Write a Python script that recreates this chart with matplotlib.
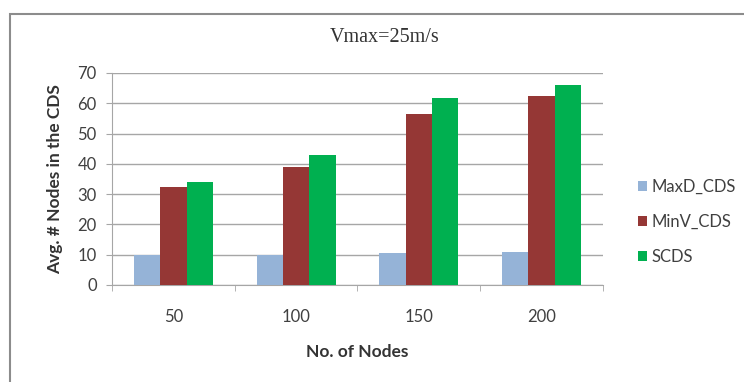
import numpy as np
import matplotlib
matplotlib.use('Agg')
import matplotlib.pyplot as plt
from matplotlib.patches import Rectangle

# --- data ---
nodes = ['50', '100', '150', '200']
maxd_cds = [9.9, 9.9, 10.4, 10.9]
minv_cds = [32.4, 38.8, 56.4, 62.3]
scds = [33.9, 42.8, 61.8, 66.0]
series_names = ['MaxD_CDS', 'MinV_CDS', 'SCDS']
colors = ['#95B3D7', '#953735', '#00B050']

plt.rcParams['font.family'] = ['Lato', 'DejaVu Sans']

fig = plt.figure(figsize=(7.44, 3.82), dpi=100)
# outer chart border
fig.patches.append(Rectangle((10 / 744, -0.05), 1.2, 1 - 14 / 382 + 0.05,
                             transform=fig.transFigure, fill=False,
                             edgecolor='#8c8c8c', linewidth=1.5))

ax = fig.add_axes([0.1505, 0.254, 0.66, 0.555])

x = np.arange(len(nodes))
w = 0.215
for i, (vals, name, c) in enumerate(zip([maxd_cds, minv_cds, scds], series_names, colors)):
    ax.bar(x + (i - 1) * w, vals, width=w, color=c, label=name, zorder=3)

ax.set_xlim(-0.5, len(nodes) - 0.5)
ax.set_ylim(0, 70)
ax.set_yticks(range(0, 71, 10))
ax.yaxis.grid(True, color='#a6a6a6', linewidth=1, zorder=0)
ax.set_axisbelow(True)

# category labels in the middle, tick marks on the boundaries
ax.set_xticks(x)
ax.set_xticklabels(nodes)
ax.tick_params(axis='x', length=0, pad=17, labelsize=12, labelcolor='#404040')
ax.set_xticks(np.arange(-0.5, len(nodes)), minor=True)
ax.tick_params(axis='x', which='minor', length=4, color='#a6a6a6', direction='out')
ax.tick_params(axis='y', length=4, pad=7, color='#a6a6a6', labelsize=12, labelcolor='#404040')

for s in ['top', 'right']:
    ax.spines[s].set_visible(False)
for s in ['left', 'bottom']:
    ax.spines[s].set_color('#a6a6a6')

fig.text(385 / 744, 1 - 38 / 382, 'Vmax=25m/s', family=['Liberation Serif'], fontsize=14.5,
         color='#333333', ha='center', va='center')
ax.set_xlabel('No. of Nodes', fontsize=12.5, fontweight='bold', color='#333333', labelpad=14)
ax.set_ylabel('Avg. # Nodes in the CDS', fontsize=12.5, fontweight='bold', color='#333333', labelpad=10)

ax.legend(loc='center left', bbox_to_anchor=(1.04, 0.297), frameon=False,
          fontsize=12, handlelength=0.55, handleheight=0.55, handletextpad=0.3,
          labelspacing=1.15, labelcolor='#404040')

fig.savefig('out.png', dpi=100)
